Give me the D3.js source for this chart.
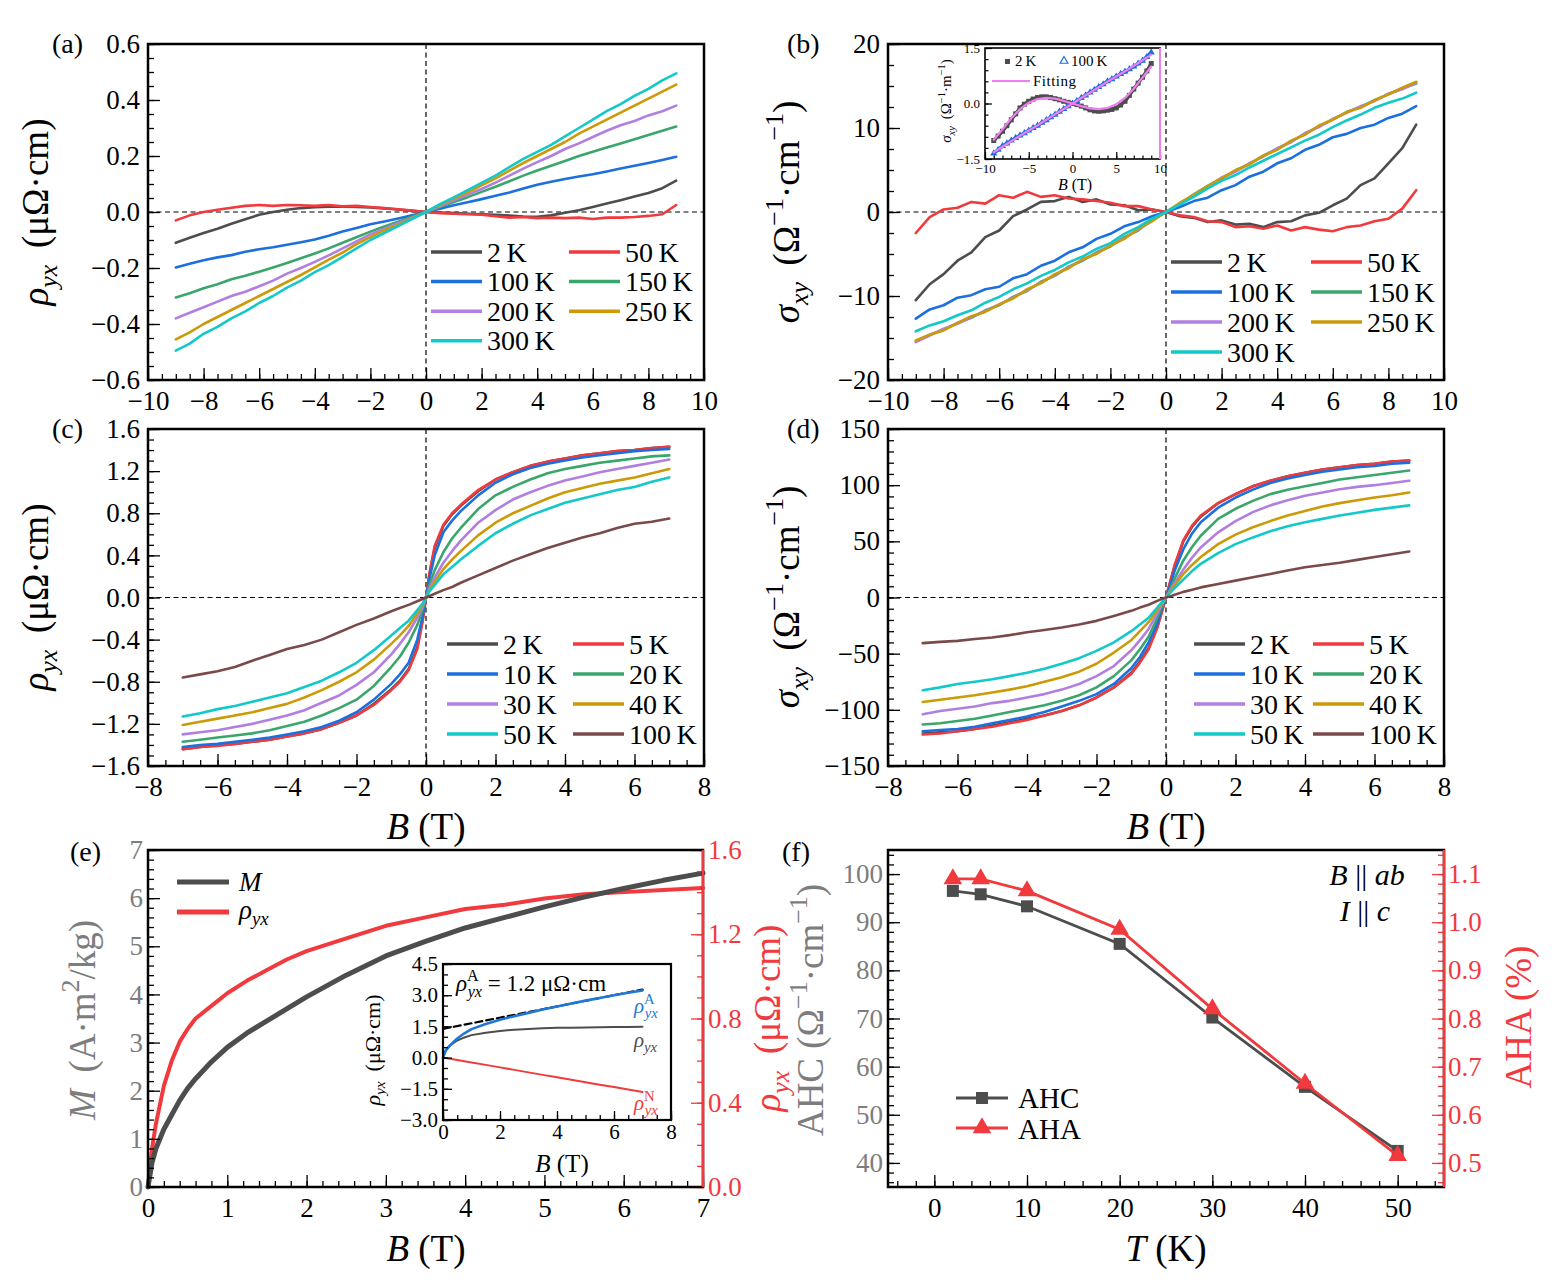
<!DOCTYPE html>
<html><head><meta charset="utf-8">
<script src="https://cdn.jsdelivr.net/npm/d3@7/dist/d3.min.js"></script>
<style>html,body{margin:0;padding:0;background:#fff;}svg{display:block;}</style>
</head><body>
<script>
// ================= DATA =================
// (a),(b): field grid (T)
const Bab = [-9,-8.5,-8,-7.5,-7,-6.5,-6,-5.5,-5,-4.5,-4,-3.5,-3,-2.5,-2,-1.5,-1,-0.5,0,0.5,1,1.5,2,2.5,3,3.5,4,4.5,5,5.5,6,6.5,7,7.5,8,8.5,9];
const labelsAB = ['2\u2009K','50\u2009K','100\u2009K','150\u2009K','200\u2009K','250\u2009K','300\u2009K'];
// (a) rho_yx (μΩ·cm)
const a_2K   = [-0.110,-0.092,-0.075,-0.060,-0.042,-0.026,-0.010,0.000,0.008,0.014,0.017,0.019,0.019,0.018,0.016,0.013,0.009,0.004,0,-0.002,-0.004,-0.006,-0.008,-0.010,-0.013,-0.016,-0.017,-0.012,-0.003,0.006,0.018,0.030,0.042,0.055,0.068,0.085,0.112];
const a_50K  = [-0.030,-0.012,0.000,0.008,0.015,0.022,0.025,0.022,0.025,0.024,0.022,0.025,0.020,0.022,0.018,0.014,0.010,0.005,0,-0.004,-0.006,-0.008,-0.010,-0.015,-0.020,-0.018,-0.022,-0.020,-0.022,-0.020,-0.025,-0.020,-0.020,-0.018,-0.014,-0.008,0.025];
const a_100K = [-0.198,-0.185,-0.172,-0.162,-0.154,-0.142,-0.133,-0.126,-0.117,-0.108,-0.098,-0.085,-0.070,-0.057,-0.044,-0.034,-0.023,-0.012,0,0.012,0.024,0.035,0.046,0.058,0.070,0.084,0.097,0.108,0.118,0.127,0.135,0.145,0.155,0.165,0.175,0.186,0.197];
const a_150K = [-0.305,-0.290,-0.272,-0.258,-0.240,-0.228,-0.213,-0.198,-0.182,-0.165,-0.148,-0.130,-0.110,-0.090,-0.070,-0.052,-0.035,-0.017,0,0.018,0.036,0.053,0.072,0.090,0.110,0.130,0.148,0.165,0.182,0.200,0.215,0.230,0.245,0.260,0.275,0.290,0.305];
const a_200K = [-0.380,-0.360,-0.340,-0.320,-0.300,-0.285,-0.265,-0.245,-0.220,-0.200,-0.178,-0.155,-0.130,-0.105,-0.080,-0.060,-0.040,-0.020,0,0.020,0.042,0.062,0.082,0.105,0.130,0.155,0.178,0.200,0.225,0.245,0.268,0.290,0.310,0.325,0.345,0.360,0.380];
const a_250K = [-0.455,-0.430,-0.400,-0.375,-0.350,-0.325,-0.300,-0.275,-0.250,-0.225,-0.198,-0.170,-0.145,-0.115,-0.090,-0.065,-0.045,-0.022,0,0.025,0.048,0.070,0.095,0.120,0.148,0.175,0.200,0.225,0.250,0.280,0.305,0.330,0.355,0.380,0.405,0.430,0.455];
const a_300K = [-0.495,-0.470,-0.435,-0.410,-0.380,-0.355,-0.325,-0.300,-0.270,-0.245,-0.215,-0.190,-0.160,-0.130,-0.100,-0.075,-0.050,-0.025,0,0.028,0.052,0.078,0.104,0.130,0.160,0.190,0.215,0.240,0.270,0.300,0.330,0.360,0.385,0.415,0.440,0.470,0.495];
// (b) sigma_xy (Ω^-1 cm^-1)
const b_2K   = [-10.5,-8.6,-7.4,-5.8,-4.8,-3.0,-2.2,-0.5,0.3,1.2,1.3,1.8,1.2,1.5,0.9,0.8,0.2,0.3,0,-0.5,-0.7,-1.2,-1.0,-1.5,-1.4,-1.8,-1.2,-1.1,-0.4,-0.1,0.8,1.6,3.2,4.0,5.8,7.6,10.4];
const b_50K  = [-2.5,-0.6,0.3,0.5,1.2,1.0,2.0,1.7,2.4,1.8,2.0,1.6,1.5,1.3,1.1,0.7,0.7,0.3,0,-0.4,-0.6,-1.1,-1.2,-1.8,-1.7,-2.0,-1.6,-2.2,-1.8,-2.1,-2.3,-1.8,-1.6,-1.1,-0.8,0.4,2.6];
const b_100K = [-12.7,-11.6,-11.1,-10.2,-9.9,-9.2,-8.9,-7.9,-7.4,-6.4,-5.8,-4.8,-4.2,-3.2,-2.6,-1.7,-1.2,-0.5,0,0.6,1.3,1.7,2.6,3.2,4.2,4.8,5.8,6.4,7.4,8.0,8.9,9.3,10.0,10.4,11.2,11.7,12.6];
const b_150K = [-15.4,-14.6,-14.0,-13.2,-12.6,-11.7,-11.1,-10.1,-9.4,-8.3,-7.6,-6.5,-5.8,-4.8,-4.1,-3.0,-2.2,-0.9,0,1.0,2.1,3.1,4.0,4.9,5.7,6.7,7.5,8.4,9.3,10.2,11.0,11.9,12.5,13.3,14.0,14.7,15.3];
const b_200K = [-15.5,-14.7,-13.9,-13.3,-12.5,-11.8,-11.0,-10.2,-9.3,-8.4,-7.5,-6.6,-5.7,-4.9,-4.0,-3.1,-2.1,-1.0,0,1.0,2.0,3.0,4.1,4.8,5.8,6.6,7.6,8.3,9.4,10.1,11.1,11.8,12.6,13.2,14.1,14.6,15.4];
const b_250K = [-15.3,-14.6,-14.1,-13.2,-12.4,-11.9,-11.0,-10.3,-9.2,-8.5,-7.4,-6.7,-5.6,-5.0,-4.0,-3.2,-2.0,-1.1,0,1.1,2.0,3.1,4.0,5.0,5.7,6.7,7.4,8.5,9.2,10.3,11.0,11.9,12.4,13.3,14.0,14.8,15.5];
const b_300K = [-14.2,-13.5,-13.0,-12.3,-11.7,-10.8,-10.1,-9.2,-8.5,-7.6,-6.9,-6.0,-5.3,-4.4,-3.7,-2.6,-1.8,-0.8,0,0.9,1.8,2.8,3.7,4.4,5.3,6.1,6.9,7.7,8.5,9.2,10.1,10.9,11.6,12.4,13.0,13.5,14.2];
// (b) inset: sigma_xy (Ω^-1 m^-1), scaled
const bi_2K   = [-1.00,-0.88,-0.75,-0.60,-0.44,-0.28,-0.12,-0.02,0.06,0.12,0.16,0.18,0.18,0.16,0.13,0.10,0.06,0.03,0,-0.03,-0.07,-0.12,-0.17,-0.20,-0.21,-0.20,-0.18,-0.16,-0.12,-0.04,0.06,0.22,0.39,0.55,0.71,0.88,1.08];
const bi_100K = [-1.35,-1.25,-1.15,-1.08,-1.00,-0.93,-0.86,-0.80,-0.73,-0.66,-0.60,-0.52,-0.45,-0.37,-0.30,-0.22,-0.15,-0.07,0,0.07,0.15,0.22,0.30,0.37,0.45,0.52,0.60,0.66,0.73,0.80,0.86,0.93,1.00,1.08,1.16,1.26,1.38];
const Bfit    = [-9,-8,-7,-6,-5,-4,-3,-2,-1,0,1,2,3,4,5,6,7,8,9];
const fit_2K  = [-0.98,-0.70,-0.40,-0.15,0.02,0.12,0.15,0.13,0.07,0,-0.07,-0.13,-0.15,-0.12,-0.02,0.15,0.40,0.70,1.00];
const fit_100K= [-1.32,-1.17,-1.02,-0.87,-0.73,-0.59,-0.44,-0.29,-0.15,0,0.15,0.29,0.44,0.59,0.73,0.87,1.02,1.17,1.32];

// (c),(d): field grid (T)
const Bcd = [-7,-6.5,-6,-5.5,-5,-4.5,-4,-3.5,-3,-2.5,-2,-1.5,-1,-0.75,-0.5,-0.25,-0.1,0,0.1,0.25,0.5,0.75,1,1.5,2,2.5,3,3.5,4,4.5,5,5.5,6,6.5,7];
const labelsCD = ['2\u2009K','5\u2009K','10\u2009K','20\u2009K','30\u2009K','40\u2009K','50\u2009K','100\u2009K'];
const c_2K   = [-1.44,-1.42,-1.40,-1.39,-1.37,-1.35,-1.32,-1.29,-1.25,-1.19,-1.12,-1.01,-0.87,-0.79,-0.68,-0.47,-0.22,0,0.22,0.47,0.68,0.79,0.87,1.01,1.12,1.19,1.25,1.29,1.32,1.35,1.37,1.39,1.40,1.42,1.43];
const c_5K   = [-1.44,-1.42,-1.41,-1.39,-1.37,-1.35,-1.32,-1.29,-1.25,-1.19,-1.12,-1.02,-0.88,-0.80,-0.69,-0.49,-0.23,0,0.23,0.49,0.69,0.80,0.88,1.02,1.12,1.19,1.25,1.29,1.32,1.35,1.37,1.39,1.40,1.42,1.43];
const c_10K  = [-1.42,-1.40,-1.39,-1.37,-1.35,-1.33,-1.30,-1.27,-1.23,-1.17,-1.09,-0.97,-0.82,-0.73,-0.62,-0.40,-0.18,0,0.18,0.40,0.62,0.73,0.82,0.97,1.09,1.17,1.23,1.27,1.30,1.33,1.35,1.37,1.39,1.40,1.41];
const c_20K  = [-1.37,-1.35,-1.33,-1.31,-1.29,-1.26,-1.22,-1.18,-1.12,-1.05,-0.97,-0.84,-0.66,-0.56,-0.43,-0.26,-0.12,0,0.12,0.26,0.43,0.56,0.66,0.84,0.97,1.05,1.12,1.18,1.22,1.25,1.28,1.30,1.32,1.34,1.35];
const c_30K  = [-1.30,-1.28,-1.26,-1.23,-1.20,-1.16,-1.12,-1.07,-1.00,-0.93,-0.83,-0.71,-0.54,-0.44,-0.33,-0.19,-0.09,0,0.09,0.19,0.33,0.44,0.54,0.71,0.83,0.93,1.00,1.06,1.11,1.15,1.19,1.22,1.25,1.28,1.31];
const c_40K  = [-1.21,-1.18,-1.15,-1.12,-1.09,-1.05,-1.01,-0.95,-0.88,-0.80,-0.71,-0.59,-0.44,-0.36,-0.27,-0.15,-0.07,0,0.07,0.15,0.27,0.36,0.44,0.59,0.71,0.80,0.87,0.94,1.00,1.04,1.08,1.11,1.14,1.18,1.22];
const c_50K  = [-1.13,-1.10,-1.06,-1.03,-0.99,-0.95,-0.91,-0.85,-0.79,-0.71,-0.62,-0.50,-0.36,-0.29,-0.22,-0.12,-0.06,0,0.06,0.12,0.22,0.29,0.36,0.49,0.61,0.70,0.78,0.84,0.90,0.94,0.98,1.02,1.05,1.10,1.14];
const c_100K = [-0.76,-0.73,-0.70,-0.66,-0.60,-0.545,-0.49,-0.45,-0.40,-0.33,-0.26,-0.20,-0.13,-0.10,-0.07,-0.035,-0.015,0,0.015,0.035,0.07,0.10,0.14,0.21,0.28,0.35,0.41,0.47,0.52,0.57,0.61,0.66,0.70,0.72,0.75];
const d_2K   = [-121,-120,-119,-117,-114,-111,-108,-105,-101,-96,-89,-80,-67,-57,-45,-26,-10,0,11,28,50,63,72,84,92,99,104,108,111,114,116,118,119,121,122];
const d_5K   = [-122,-121,-119,-117,-115,-112,-109,-105,-101,-96,-89,-80,-68,-58,-46,-27,-11,0,12,29,51,64,73,84,92,99,104,108,111,114,116,118,119,121,122];
const d_10K  = [-119,-118,-117,-115,-112,-109,-106,-102,-97,-92,-86,-77,-63,-53,-40,-23,-8,0,9,24,43,57,67,80,89,96,102,106,109,112,114,116,117,119,120];
const d_20K  = [-113,-112,-110,-108,-105,-102,-99,-96,-92,-87,-80,-70,-56,-46,-35,-18,-7,0,6,17,33,45,55,70,79,86,92,96,99,102,105,107,109,111,113];
const d_30K  = [-104,-101,-99,-97,-94,-92,-89,-86,-82,-77,-70,-61,-47,-38,-28,-14,-5,0,5,13,25,35.5,44.5,58,68,76,82,86.5,90.5,93.5,96.4,98.5,100,102,104];
const d_40K  = [-93,-91,-89,-87,-84.5,-82,-79,-75,-71,-66,-59,-49,-38,-30,-22,-11,-4,0,4,11,21,29,36,47.5,56,62.5,68,73,77,81,84,86.5,89,91,93.5];
const d_50K  = [-82.5,-80,-77,-75,-72.7,-70,-67,-63.5,-59,-54,-47.5,-40,-30,-24,-18,-9,-3.5,0,3.5,8.5,16,23.5,30,39.5,47.5,53.5,59,63.5,67,70,73,75.5,78,80,82];
const d_100K = [-40.6,-39.5,-38.6,-37,-35.6,-33.5,-31,-29,-26.7,-24,-20.8,-16.5,-11.9,-9,-6.5,-3,-1,0,0.8,2.5,5,7,9,12,15,18,21,24,27,29,31,33.5,36,38.5,41];

// (e) M and rho_yx vs B
const Be = [0,0.05,0.1,0.2,0.3,0.4,0.5,0.6,0.8,1,1.25,1.5,1.75,2,2.5,3,3.5,4,4.5,5,5.5,6,6.5,7];
const eM = [0,0.5,0.8,1.2,1.5,1.8,2.05,2.25,2.6,2.9,3.2,3.45,3.7,3.95,4.4,4.8,5.1,5.38,5.6,5.82,6.02,6.2,6.37,6.52];
const eR = [0,0.18,0.3,0.48,0.6,0.69,0.75,0.8,0.86,0.92,0.98,1.03,1.08,1.12,1.18,1.24,1.28,1.32,1.34,1.37,1.39,1.40,1.41,1.42];
// (e) inset
const Bei = [0,0.1,0.25,0.5,0.75,1,1.5,2,2.5,3,3.5,4,4.5,5,5.5,6,6.5,7];
const eiA = [0,0.35,0.6,0.92,1.17,1.37,1.62,1.82,1.99,2.15,2.31,2.46,2.6,2.74,2.87,3.0,3.12,3.23];
const eiY = [0,0.35,0.58,0.82,0.97,1.08,1.2,1.28,1.34,1.38,1.41,1.43,1.44,1.45,1.46,1.47,1.47,1.48];
const eiN = [0,-0.02,-0.06,-0.12,-0.18,-0.24,-0.35,-0.47,-0.59,-0.71,-0.83,-0.94,-1.06,-1.18,-1.3,-1.41,-1.53,-1.65];
const eiFitB = [0,7];
const eiFit  = [1.38,3.27];
// (f)
const fT   = [2,5,10,20,30,40,50];
const fAHC = [96.5,95.8,93.3,85.5,70.2,55.8,42.5];
const fAHA = [1.09,1.09,1.065,0.985,0.82,0.665,0.515];

// tick labels
const tk_a_x = [-10,-8,-6,-4,-2,0,2,4,6,8,10];
const tk_a_y = [-0.6,-0.4,-0.2,0,0.2,0.4,0.6];
const tk_b_y = [-20,-10,0,10,20];
const tk_c_x = [-8,-6,-4,-2,0,2,4,6,8];
const tk_c_y = [-1.6,-1.2,-0.8,-0.4,0,0.4,0.8,1.2,1.6];
const tk_d_y = [-150,-100,-50,0,50,100,150];
const tk_e_x = [0,1,2,3,4,5,6,7];
const tk_e_y = [0,1,2,3,4,5,6,7];
const tk_e_y2 = [0,0.4,0.8,1.2,1.6];
const tk_f_x = [0,10,20,30,40,50];
const tk_f_y = [40,50,60,70,80,90,100];
const tk_f_y2 = [0.5,0.6,0.7,0.8,0.9,1.0,1.1];

// ================= DRAWING =================
const FONT = "'Liberation Serif','Times New Roman',serif";
const TFS = 27;   // tick label size
const AFS = 37;   // axis label size
const COL = {gray:'#4d4d4d', red:'#f03a3d', blue:'#1b6fdf', green:'#39a66b', purple:'#b07fe0',
  gold:'#cc9a06', cyan:'#13c8c8', brown:'#7a4a4a', pink:'#ef7ef0', tgray:'#7d7d7d', ired:'#ee3b3b', iblue:'#1f78d8'};
const svg = d3.select('body').append('svg').attr('width',1556).attr('height',1286)
  .attr('font-family',FONT);
svg.append('rect').attr('width',1556).attr('height',1286).attr('fill','#fff');

function mkAxis(g, gen, tx, ty, vals, len, fmt, pad, fs, tcol, lcol, sw){
  const a = g.append('g').attr('transform',`translate(${tx},${ty})`)
    .call(gen.tickValues(vals).tickSizeInner(-len).tickSizeOuter(0).tickPadding(pad).tickFormat(fmt));
  a.attr('font-family',null).attr('font-size',null);
  a.select('.domain').remove();
  a.selectAll('.tick line').attr('stroke',lcol||'#000').attr('stroke-width',sw||1.3);
  a.selectAll('.tick text').attr('font-size',fs).attr('fill',tcol||'#000');
  return a;
}
const blank = () => '';
function panel(o){
  const g = svg.append('g');
  const x = d3.scaleLinear().domain(o.xd).range([o.L,o.R]);
  const y = d3.scaleLinear().domain(o.yd).range([o.B,o.T]);
  const fs = o.fs||TFS, ML=o.majLen||12, ml=o.minLen||6;
  if(o.bg) g.append('rect').attr('x',o.L).attr('y',o.T).attr('width',o.R-o.L).attr('height',o.B-o.T).attr('fill','#fff');
  const P = {g,x,y,o};
  P.axes = () => {
    mkAxis(g, d3.axisBottom(x), 0, o.B, o.xMinor, ml, blank, 0, fs, null, null, o.tsw);
    mkAxis(g, d3.axisBottom(x), 0, o.B, o.xTicks, ML, o.xFmt, o.xPad||11, fs, o.xTextCol, null, o.tsw);
    mkAxis(g, d3.axisLeft(y), o.L, 0, o.yMinor, ml, blank, 0, fs, null, o.yTickCol, o.tsw);
    mkAxis(g, d3.axisLeft(y), o.L, 0, o.yTicks, ML, o.yFmt, o.yPad||8, fs, o.yTextCol, o.yTickCol, o.tsw);
  };
  P.frame = (sw) => {
    g.append('rect').attr('x',o.L).attr('y',o.T).attr('width',o.R-o.L).attr('height',o.B-o.T)
      .attr('fill','none').attr('stroke','#000').attr('stroke-width',sw||2.5);
  };
  P.zero = () => {
    g.append('line').attr('x1',o.L).attr('x2',o.R).attr('y1',y(0)).attr('y2',y(0))
      .attr('stroke','#000').attr('stroke-width',1.2).attr('stroke-dasharray','5,3.5');
    g.append('line').attr('x1',x(0)).attr('x2',x(0)).attr('y1',o.T).attr('y2',o.B)
      .attr('stroke','#000').attr('stroke-width',1.2).attr('stroke-dasharray','5,3.5');
  };
  P.line = (xs, ys, col, w, yScale, dash) => {
    const ys_ = yScale||y;
    const ln = d3.line().x((d,i)=>x(xs[i])).y(d=>ys_(d));
    const p = g.append('path').datum(ys).attr('d',ln).attr('fill','none').attr('stroke',col)
      .attr('stroke-width',w||2.6).attr('stroke-linejoin','round').attr('stroke-linecap','round');
    if(dash) p.attr('stroke-dasharray',dash);
    return p;
  };
  return P;
}
function rich(g, x, y, parts, fs, opts={}){
  const t = g.append('text').attr('x',x).attr('y',y).attr('font-size',fs)
    .attr('text-anchor',opts.anchor||'start').attr('fill',opts.fill||'#000');
  if(opts.rotate) t.attr('transform',`rotate(-90,${x},${y})`);
  let shift = 0;
  for(const p of parts){
    const txt=p[0], st=p[1]||'', dx=p[2];
    const ts = t.append('tspan').text(txt);
    let target=0, size=fs;
    if(st.includes('_')){target=0.24*fs; size=0.7*fs;}
    if(st.includes('^')){target=-0.42*fs; size=0.7*fs;}
    if(target-shift!==0) ts.attr('dy', target-shift);
    if(size!==fs) ts.attr('font-size', size);
    if(st.includes('i')) ts.attr('font-style','italic');
    if(dx) ts.attr('dx', dx);
    shift = target;
  }
  return t;
}
function legend(g, items, xs, y0, dy, len, fs, lw){
  items.forEach((it,i)=>{
    const cx = xs[i%2], cy = y0 + Math.floor(i/2)*dy;
    g.append('line').attr('x1',cx).attr('x2',cx+len).attr('y1',cy).attr('y2',cy)
      .attr('stroke',it.c).attr('stroke-width',lw||3.5);
    g.append('text').attr('x',cx+len+5).attr('y',cy+fs*0.34).attr('font-size',fs).text(it.t);
  });
}
const f1 = d3.format('.1f'), fd = d3.format('d');
const rhoLab = [['ρ','i'],['yx','i_'],['\u2009 (μΩ·cm)']];
const sigLab = [['σ','i'],['xy','i_'],['\u2009 (Ω'],['−1','^'],['·cm'],['−1','^'],[')']];

// ---------- (a) ----------
const abCols = [COL.gray,COL.red,COL.blue,COL.green,COL.purple,COL.gold,COL.cyan];
{
  const P = panel({L:148,R:704,T:44,B:380,xd:[-10,10],yd:[-0.6,0.6],
    xTicks:tk_a_x,xMinor:d3.range(-10,10.01,0.5),xFmt:fd,
    yTicks:tk_a_y,yMinor:d3.range(-0.6,0.601,0.05),yFmt:f1});
  P.zero();
  [a_2K,a_50K,a_100K,a_150K,a_200K,a_250K,a_300K].forEach((s,i)=>P.line(Bab,s,abCols[i],2.6));
  P.axes(); P.frame();
  legend(P.g, labelsAB.map((t,i)=>({t,c:abCols[i]})), [431,569], 252, 29.6, 51, 28);
  rich(svg, 52, 53, [['(a)']], 28);
  rich(svg, 48, 212, rhoLab, AFS, {anchor:'middle', rotate:true});
}
// ---------- (b) ----------
{
  const P = panel({L:888,R:1444,T:44,B:380,xd:[-10,10],yd:[-20,20],
    xTicks:tk_a_x,xMinor:d3.range(-10,10.01,0.5),xFmt:fd,
    yTicks:tk_b_y,yMinor:d3.range(-20,20.01,2.5),yFmt:fd});
  P.zero();
  [b_2K,b_50K,b_100K,b_150K,b_200K,b_250K,b_300K].forEach((s,i)=>P.line(Bab,s,abCols[i],2.6));
  P.axes(); P.frame();
  legend(P.g, labelsAB.map((t,i)=>({t,c:abCols[i]})), [1171,1311], 262, 30, 51, 28);
  rich(svg, 787, 53, [['(b)']], 28);
  rich(svg, 799, 212, sigLab, AFS, {anchor:'middle', rotate:true});

  // inset
  const I = panel({L:985,R:1160,T:48,B:159,xd:[-10,10],yd:[-1.5,1.5],bg:true,fs:13,majLen:7,minLen:3.5,
    xTicks:[-10,-5,0,5,10],xMinor:d3.range(-10,10.01,1),xFmt:fd,xPad:5,
    yTicks:[-1.5,0,1.5],yMinor:d3.range(-1.5,1.51,0.3),yFmt:f1,yPad:5,tsw:1.2});
  I.line(Bab, bi_2K, COL.gray, 3.5);
  I.line(Bab, bi_100K, COL.blue, 3.5);
  I.g.selectAll('rect.sq').data(bi_2K).join('rect').attr('class','sq')
    .attr('x',(d,i)=>I.x(Bab[i])-2.5).attr('y',d=>I.y(d)-2.5).attr('width',5).attr('height',5).attr('fill',COL.gray);
  I.g.selectAll('path.tri').data(bi_100K).join('path').attr('class','tri')
    .attr('transform',(d,i)=>`translate(${I.x(Bab[i])},${I.y(d)})`)
    .attr('d',d3.symbol(d3.symbolTriangle,22)).attr('fill',COL.blue);
  I.line(Bfit, fit_2K, COL.pink, 2.2);
  I.line(Bfit, fit_100K, COL.pink, 2.2);
  I.axes(); I.frame(1.6);
  I.g.append('line').attr('x1',1160).attr('x2',1160).attr('y1',48).attr('y2',159).attr('stroke',COL.pink).attr('stroke-width',2);
  // inset legend
  I.g.append('rect').attr('x',1005).attr('y',59).attr('width',5).attr('height',5).attr('fill',COL.gray);
  I.g.append('text').attr('x',1015).attr('y',66).attr('font-size',15).text('2\u2009K');
  I.g.append('path').attr('transform','translate(1064,61)').attr('d',d3.symbol(d3.symbolTriangle,26))
    .attr('fill','none').attr('stroke',COL.blue).attr('stroke-width',1.2);
  I.g.append('text').attr('x',1071).attr('y',66).attr('font-size',15).text('100\u2009K');
  I.g.append('line').attr('x1',992).attr('x2',1030).attr('y1',81).attr('y2',81).attr('stroke',COL.pink).attr('stroke-width',2);
  I.g.append('text').attr('x',1033).attr('y',86).attr('font-size',15).attr('letter-spacing',0.5).text('Fitting');
  rich(svg, 951, 101, [['σ','i'],['xy','i_'],['\u2009 (Ω'],['−1','^'],['·m'],['−1','^'],[')']], 15, {anchor:'middle', rotate:true});
  rich(svg, 1075, 190, [['B','i'],[' (T)']], 16, {anchor:'middle'});
}
// ---------- (c) ----------
const cdCols = [COL.gray,COL.red,COL.blue,COL.green,COL.purple,COL.gold,COL.cyan,COL.brown];
{
  const P = panel({L:148,R:704,T:429,B:766,xd:[-8,8],yd:[-1.6,1.6],
    xTicks:tk_c_x,xMinor:d3.range(-8,8.01,0.5),xFmt:fd,
    yTicks:tk_c_y,yMinor:d3.range(-1.6,1.601,0.1),yFmt:f1});
  P.zero();
  [c_2K,c_5K,c_10K,c_20K,c_30K,c_40K,c_50K,c_100K].forEach((s,i)=>P.line(Bcd,s,cdCols[i],2.6));
  P.axes(); P.frame();
  legend(P.g, labelsCD.map((t,i)=>({t,c:cdCols[i]})), [447,573], 644, 30, 51, 28);
  rich(svg, 52, 438, [['(c)']], 28);
  rich(svg, 48, 597, rhoLab, AFS, {anchor:'middle', rotate:true});
  rich(svg, 426, 839, [['B','i'],[' (T)']], AFS, {anchor:'middle'});
}
// ---------- (d) ----------
{
  const P = panel({L:888,R:1444,T:429,B:766,xd:[-8,8],yd:[-150,150],
    xTicks:tk_c_x,xMinor:d3.range(-8,8.01,0.5),xFmt:fd,
    yTicks:tk_d_y,yMinor:d3.range(-150,150.1,10),yFmt:fd});
  P.zero();
  [d_2K,d_5K,d_10K,d_20K,d_30K,d_40K,d_50K,d_100K].forEach((s,i)=>P.line(Bcd,s,cdCols[i],2.6));
  P.axes(); P.frame();
  legend(P.g, labelsCD.map((t,i)=>({t,c:cdCols[i]})), [1194,1313], 644, 30, 51, 28);
  rich(svg, 787, 438, [['(d)']], 28);
  rich(svg, 799, 597, sigLab, AFS, {anchor:'middle', rotate:true});
  rich(svg, 1166, 839, [['B','i'],[' (T)']], AFS, {anchor:'middle'});
}
// ---------- (e) ----------
{
  const P = panel({L:148,R:703,T:850,B:1187,xd:[0,7],yd:[0,7],
    xTicks:tk_e_x,xMinor:d3.range(0,7.01,0.2),xFmt:fd,
    yTicks:tk_e_y,yMinor:d3.range(0,7.01,0.2),yFmt:fd,yTextCol:COL.tgray,yPad:5});
  const y2 = d3.scaleLinear().domain([0,1.6]).range([1187,850]);
  P.line(Be, eR, COL.red, 4, y2);
  P.line(Be, eM, COL.gray, 5);
  P.axes();
  mkAxis(P.g, d3.axisRight(y2), 703, 0, d3.range(0,1.601,0.1), 6, blank, 0, TFS, null, COL.red);
  mkAxis(P.g, d3.axisRight(y2), 703, 0, tk_e_y2, 12, f1, 5, TFS, COL.red, COL.red);
  P.frame();
  P.g.append('line').attr('x1',703).attr('x2',703).attr('y1',850).attr('y2',1187).attr('stroke',COL.red).attr('stroke-width',2.5);
  // legend
  P.g.append('line').attr('x1',177).attr('x2',229).attr('y1',882).attr('y2',882).attr('stroke',COL.gray).attr('stroke-width',5);
  P.g.append('line').attr('x1',177).attr('x2',229).attr('y1',912).attr('y2',912).attr('stroke',COL.red).attr('stroke-width',5);
  rich(P.g, 239, 891, [['M','i']], 27);
  rich(P.g, 239, 919, [['ρ','i'],['yx','i_']], 27);
  rich(svg, 70, 861, [['(e)']], 28);
  rich(svg, 95, 1020, [['M','i'],['\u2009 (A·m'],['2','^'],['/kg)']], AFS, {anchor:'middle', rotate:true, fill:COL.tgray});
  rich(svg, 780, 1018, rhoLab, AFS, {anchor:'middle', rotate:true, fill:COL.red});
  rich(svg, 426, 1261, [['B','i'],[' (T)']], AFS, {anchor:'middle'});

  // inset
  const I = panel({L:443,R:671,T:964,B:1120,xd:[0,8],yd:[-3,4.5],bg:true,fs:21,majLen:9,minLen:5,
    xTicks:[0,2,4,6,8],xMinor:d3.range(0,8.01,0.5),xFmt:fd,xPad:4,
    yTicks:[-3,-1.5,0,1.5,3,4.5],yMinor:d3.range(-3,4.51,0.5),yFmt:f1,yPad:5,tsw:1.3});
  I.line(eiFitB, eiFit, '#000', 2.2, null, '7,4');
  I.line(Bei, eiN, COL.ired, 2);
  I.line(Bei, eiY, COL.gray, 2);
  I.line(Bei, eiA, COL.iblue, 2.6);
  I.axes(); I.frame(2.2);
  rich(I.g, 456, 991, [['ρ','i'],['A','^'],['yx','i_',-11],[' = 1.2 μΩ·cm']], 23);
  rich(I.g, 634, 1013, [['ρ','i'],['A','^'],['yx','i_',-10]], 21, {fill:COL.iblue});
  rich(I.g, 634, 1047, [['ρ','i'],['yx','i_']], 21, {fill:COL.gray});
  rich(I.g, 634, 1110, [['ρ','i'],['N','^'],['yx','i_',-10]], 21, {fill:COL.ired});
  rich(svg, 380, 1050, rhoLab, 22, {anchor:'middle', rotate:true});
  rich(svg, 562, 1172, [['B','i'],[' (T)']], 25, {anchor:'middle'});
}
// ---------- (f) ----------
{
  const P = panel({L:888,R:1444,T:850,B:1187,xd:[-5,55],yd:[35,105],
    xTicks:tk_f_x,xMinor:d3.range(-4,55,2),xFmt:fd,
    yTicks:tk_f_y,yMinor:d3.range(36,105,2),yFmt:fd,yTextCol:COL.tgray,yPad:5});
  const y2 = d3.scaleLinear().domain([0.45,1.15]).range([1187,850]);
  const lnC = d3.line().x((d,i)=>P.x(fT[i])).y(d=>P.y(d));
  const lnA = d3.line().x((d,i)=>P.x(fT[i])).y(d=>y2(d));
  P.g.append('path').datum(fAHC).attr('d',lnC).attr('fill','none').attr('stroke',COL.gray).attr('stroke-width',2.8);
  P.g.selectAll('rect.m').data(fAHC).join('rect').attr('class','m')
    .attr('x',(d,i)=>P.x(fT[i])-6).attr('y',d=>P.y(d)-6).attr('width',12).attr('height',12).attr('fill',COL.gray);
  P.g.append('path').datum(fAHA).attr('d',lnA).attr('fill','none').attr('stroke',COL.red).attr('stroke-width',2.8);
  P.g.selectAll('path.t').data(fAHA).join('path').attr('class','t')
    .attr('transform',(d,i)=>`translate(${P.x(fT[i])},${y2(d)})`)
    .attr('d',d3.symbol(d3.symbolTriangle,150)).attr('fill',COL.red);
  P.axes();
  mkAxis(P.g, d3.axisRight(y2), 1444, 0, d3.range(0.46,1.15,0.02), 6, blank, 0, TFS, null, COL.red);
  mkAxis(P.g, d3.axisRight(y2), 1444, 0, tk_f_y2, 12, f1, 4, TFS, COL.red, COL.red);
  P.frame();
  P.g.append('line').attr('x1',1444).attr('x2',1444).attr('y1',850).attr('y2',1187).attr('stroke',COL.red).attr('stroke-width',2.5);
  // legend
  P.g.append('line').attr('x1',956).attr('x2',1008).attr('y1',1098).attr('y2',1098).attr('stroke',COL.gray).attr('stroke-width',2.8);
  P.g.append('rect').attr('x',976).attr('y',1092).attr('width',12).attr('height',12).attr('fill',COL.gray);
  P.g.append('line').attr('x1',956).attr('x2',1008).attr('y1',1128).attr('y2',1128).attr('stroke',COL.red).attr('stroke-width',2.8);
  P.g.append('path').attr('transform','translate(982,1128)').attr('d',d3.symbol(d3.symbolTriangle,150)).attr('fill',COL.red);
  P.g.append('text').attr('x',1018).attr('y',1108).attr('font-size',29).text('AHC');
  P.g.append('text').attr('x',1018).attr('y',1139).attr('font-size',29).text('AHA');
  rich(P.g, 1367, 885, [['B','i'],[' || '],['ab','i']], 30, {anchor:'middle'});
  rich(P.g, 1365, 921, [['I','i'],[' || '],['c','i']], 30, {anchor:'middle'});
  rich(svg, 782, 861, [['(f)']], 28);
  rich(svg, 823, 1010, [['AHC (Ω'],['−1','^'],['·cm'],['−1','^'],[')']], AFS, {anchor:'middle', rotate:true, fill:COL.tgray});
  rich(svg, 1531, 1017, [['AHA (%)']], AFS, {anchor:'middle', rotate:true, fill:COL.red});
  rich(svg, 1166, 1261, [['T','i'],[' (K)']], AFS, {anchor:'middle'});
}
</script>
</body></html>
